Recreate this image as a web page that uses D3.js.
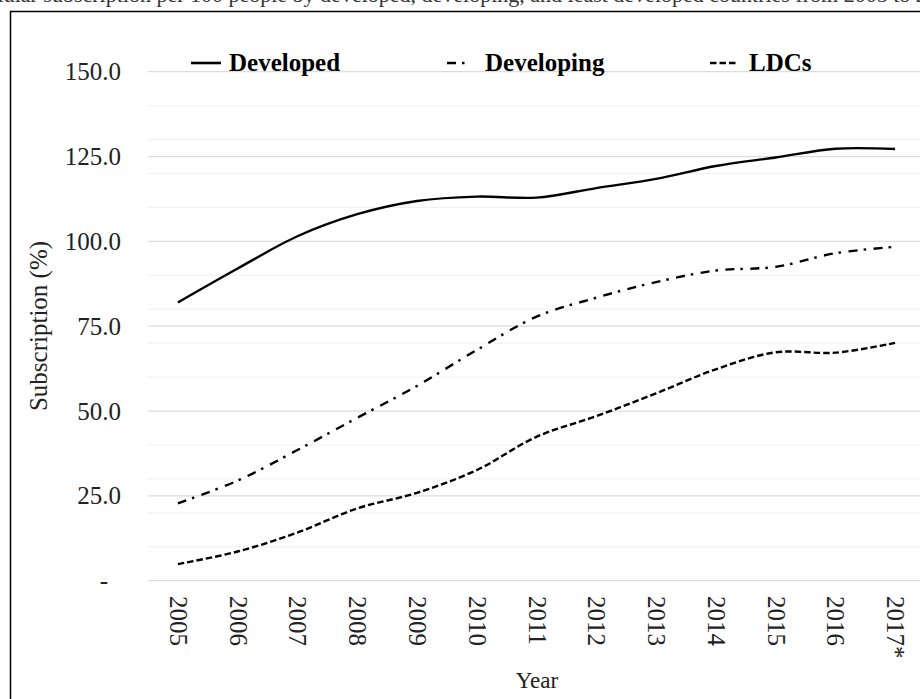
<!DOCTYPE html>
<html>
<head>
<meta charset="utf-8">
<script src="https://cdn.jsdelivr.net/npm/d3@7"></script>
<style>
  html, body { margin: 0; padding: 0; background: #fff; }
  svg { display: block; font-family: "Liberation Serif", "Times New Roman", serif; }
</style>
</head>
<body>
<svg id="chart" width="920" height="699"></svg>
<script>
const years = ["2005","2006","2007","2008","2009","2010","2011","2012","2013","2014","2015","2016","2017*"];
const developed  = [82.0, 92.0, 101.5, 108.0, 111.9, 113.2, 112.9, 115.7, 118.4, 122.2, 124.7, 127.3, 127.2];
const developing = [22.8, 29.5, 38.5, 48.0, 57.4, 68.0, 77.8, 83.4, 88.0, 91.4, 92.5, 96.5, 98.4];
const ldcs       = [4.9, 8.6, 14.2, 21.3, 25.9, 32.6, 42.4, 48.5, 55.2, 62.3, 67.3, 67.2, 70.1];
const yTicks = [0, 25, 50, 75, 100, 125, 150];
const yMinor = [10, 20, 30, 40, 60, 70, 80, 90, 110, 120, 130, 140];
const seriesNames = ["Developed", "Developing", "LDCs"];
const title = "Mobile-cellular subscription per 100 people by developed, developing, and least developed countries from 2005 to 2017";

const svg = d3.select("#chart");

// partially visible caption at top (cut off by the picture edge, as in the reference)
svg.append("text").attr("x", -99).attr("y", 2).attr("text-anchor", "start")
  .attr("font-size", 22).attr("fill", "#333").text(title);

// frame
svg.append("rect").attr("x", 10.5).attr("y", 11.5).attr("width", 940).attr("height", 720)
  .attr("fill", "none").attr("stroke", "#000").attr("stroke-width", 1.5);

const x = d3.scalePoint().domain(years).range([148, 925]).padding(0.5);
const y = d3.scaleLinear().domain([0, 150]).range([580.7, 71.7]);

// minor gridlines
svg.append("g").selectAll("line").data(yMinor).join("line")
  .attr("x1", 148).attr("x2", 920)
  .attr("y1", d => y(d)).attr("y2", d => y(d))
  .attr("stroke", "#f0f0f0").attr("stroke-width", 1);
// major gridlines
svg.append("g").selectAll("line").data(yTicks).join("line")
  .attr("x1", 148).attr("x2", 920)
  .attr("y1", d => y(d)).attr("y2", d => y(d))
  .attr("stroke", "#dcdcdc").attr("stroke-width", 1.2);

// y axis labels
const yAxis = svg.append("g").attr("transform", "translate(121,0)")
  .call(d3.axisLeft(y).tickValues(yTicks).tickSize(0).tickPadding(0)
    .tickFormat(d => d === 0 ? "-" : d3.format(".1f")(d)));
yAxis.select(".domain").remove();
yAxis.selectAll("text").attr("font-size", 25).attr("fill", "#222")
  .attr("font-family", "Liberation Serif, Times New Roman, serif")
  .attr("dx", d => d === 0 ? -13 : 0);

// x axis labels (rotated)
const xAxis = svg.append("g").attr("transform", "translate(0,596)")
  .call(d3.axisBottom(x).tickSize(0).tickPadding(0));
xAxis.select(".domain").remove();
xAxis.selectAll("text")
  .attr("font-size", 25).attr("fill", "#222")
  .attr("font-family", "Liberation Serif, Times New Roman, serif")
  .attr("transform", "rotate(90)")
  .attr("text-anchor", "start")
  .attr("x", 0).attr("y", 0).attr("dy", "0.34em");

// axis titles
svg.append("text").attr("x", 537).attr("y", 688).attr("text-anchor", "middle")
  .attr("font-size", 23).attr("fill", "#222").text("Year");
svg.append("text").attr("transform", "translate(47,326) rotate(-90)").attr("text-anchor", "middle")
  .attr("font-size", 25).attr("fill", "#222").text("Subscription (%)");

// lines
const styles = [
  { data: developed, dash: null },
  { data: developing, dash: "9,6,2.5,7.5" },
  { data: ldcs, dash: "6.5,3" }
];
const line = d3.line().x((d, i) => x(years[i])).y(d => y(d)).curve(d3.curveCatmullRom.alpha(0.5));
styles.forEach(s => {
  svg.append("path").datum(s.data).attr("d", line)
    .attr("fill", "none").attr("stroke", "#000").attr("stroke-width", 2.4)
    .attr("stroke-dasharray", s.dash);
});

// legend
const legendPos = [
  { x1: 191, x2: 221, tx: 229 },
  { x1: 447, x2: 466, tx: 485 },
  { x1: 710, x2: 737, tx: 749 }
];
seriesNames.forEach((name, i) => {
  const p = legendPos[i];
  svg.append("line").attr("x1", p.x1).attr("x2", p.x2).attr("y1", 63).attr("y2", 63)
    .attr("stroke", "#000").attr("stroke-width", 2.6).attr("stroke-dasharray", styles[i].dash);
  svg.append("text").attr("x", p.tx).attr("y", 71).attr("font-size", 25)
    .attr("font-weight", "bold").attr("fill", "#000").text(name);
});
</script>
</body>
</html>
